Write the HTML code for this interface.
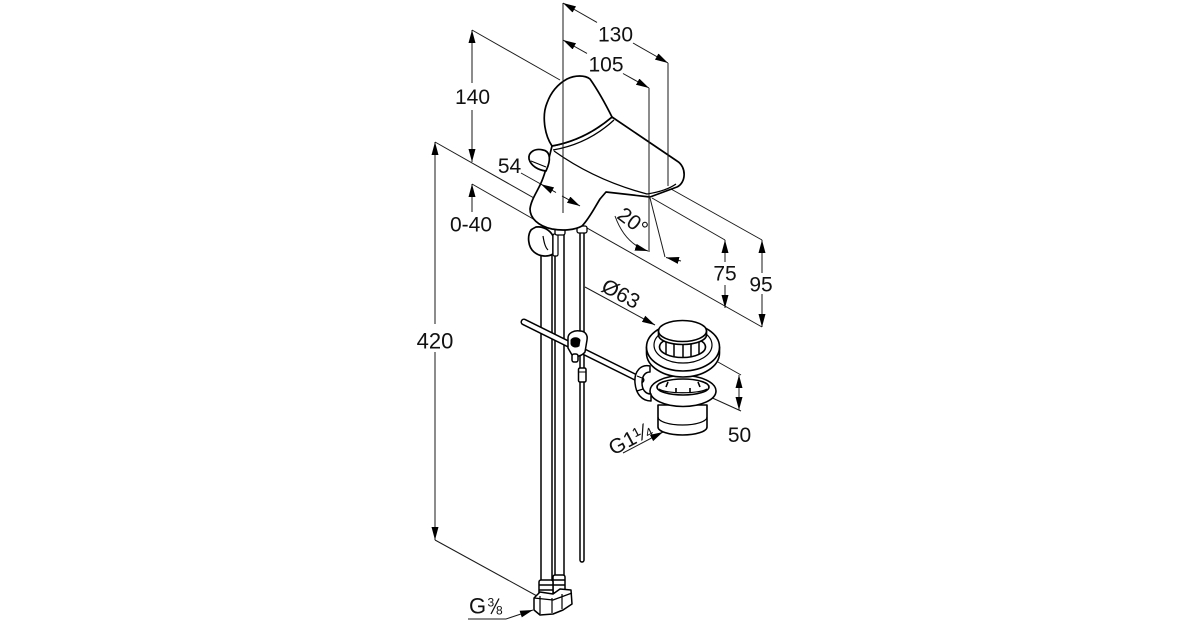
<!DOCTYPE html>
<html>
<head>
<meta charset="utf-8">
<style>
html,body{margin:0;padding:0;background:#fff;}
svg{display:block;}
text{font-family:"Liberation Sans",Arial,sans-serif;fill:#111;}
</style>
</head>
<body>
<svg width="1200" height="630" viewBox="0 0 1200 630" xmlns="http://www.w3.org/2000/svg">
<defs>
<marker id="a" markerUnits="userSpaceOnUse" markerWidth="14" markerHeight="8" refX="13" refY="3.5" orient="auto" viewBox="0 0 14 8">
<path d="M0,0 L13,3.5 L0,7 Z" fill="#000"/>
</marker>
</defs>
<rect width="1200" height="630" fill="#fff"/>

<!-- dimension lines under the faucet -->
<g stroke="#1a1a1a" stroke-width="1" fill="none">
  <line x1="435" y1="142" x2="762" y2="327"/>
  <line x1="472" y1="184" x2="535" y2="220"/>
  <line x1="472" y1="30" x2="560" y2="80"/>
  <!-- 420 -->
  <line x1="435" y1="324" x2="435" y2="142" marker-end="url(#a)"/>
  <line x1="435" y1="352" x2="435" y2="540" marker-end="url(#a)"/>
  <line x1="435" y1="540" x2="537" y2="596"/>
  <!-- 140 -->
  <line x1="472" y1="83" x2="472" y2="30" marker-end="url(#a)"/>
  <line x1="472" y1="110" x2="472" y2="162" marker-end="url(#a)"/>
  <!-- 0-40 -->
  <line x1="472" y1="212" x2="472" y2="184" marker-end="url(#a)"/>
  <!-- 130 -->
  <line x1="597" y1="22.4" x2="563" y2="3" marker-end="url(#a)"/>
  <line x1="633" y1="43" x2="668" y2="63" marker-end="url(#a)"/>
  <!-- 105 -->
  <line x1="587" y1="53.4" x2="563" y2="40" marker-end="url(#a)"/>
  <line x1="623" y1="73.5" x2="649" y2="88" marker-end="url(#a)"/>
  <!-- 75 -->
  <line x1="652" y1="198" x2="725" y2="240"/>
  <line x1="725" y1="262" x2="725" y2="240" marker-end="url(#a)"/>
  <line x1="725" y1="285" x2="725" y2="308" marker-end="url(#a)"/>
  <!-- 95 -->
  <line x1="671" y1="189" x2="762" y2="240"/>
  <line x1="762" y1="273" x2="762" y2="240" marker-end="url(#a)"/>
  <line x1="762" y1="294" x2="762" y2="327" marker-end="url(#a)"/>
  <!-- 20 deg -->
  <line x1="650" y1="198" x2="665" y2="257"/>
  <path d="M615,216 Q625,244 648,251" marker-end="url(#a)"/>
  <line x1="681" y1="261" x2="666" y2="257.5" marker-end="url(#a)"/>
  <!-- Ø63 -->
  <line x1="585" y1="287" x2="655" y2="325" marker-end="url(#a)"/>
  <!-- 50 -->
  <line x1="718" y1="362" x2="741" y2="375"/>
  <line x1="708" y1="396" x2="741" y2="411"/>
  <line x1="739" y1="393" x2="739" y2="375" marker-end="url(#a)"/>
  <line x1="739" y1="393" x2="739" y2="410" marker-end="url(#a)"/>
  <!-- G1 1/4 -->
  <line x1="623" y1="453" x2="663" y2="432" marker-end="url(#a)"/>
  <!-- G3/8 -->
  <line x1="468" y1="619" x2="506" y2="619"/>
  <line x1="506" y1="619" x2="533" y2="610" marker-end="url(#a)"/>
  <!-- 54 -->
  <line x1="521" y1="173" x2="580" y2="206"/>
  <line x1="580" y1="200" x2="580" y2="228"/>
</g>

<!-- hoses & pop-up rod -->
<g stroke="#000" stroke-width="1.5" fill="none">
  <line x1="541" y1="250" x2="541" y2="581"/>
  <line x1="552" y1="240" x2="552" y2="581"/>
  <line x1="555" y1="234" x2="555" y2="576"/>
  <line x1="564" y1="230" x2="564" y2="576"/>
  <path d="M580,228 L580,560 A2,2 0 0 0 584,560 L584,228" fill="#fff"/>
</g>

<!-- faucet -->
<g stroke="#000" stroke-width="1.7" fill="#fff" stroke-linejoin="round">
  <!-- elbow under body -->
  <path d="M531,230 C527,236 528,247 534,252 C540,257 548,257 553,254 L553,236 C550,230 543,226 536,227 C534,228 532,229 531,230 Z"/>
  <path d="M543,236 C544,242 545,247 548,250" fill="none" stroke-width="1.2"/>
  <rect x="553" y="234" width="5" height="22" rx="1.5" stroke-width="1.2"/>
  <rect x="555" y="227" width="10" height="8" rx="2" stroke-width="1.3"/>
  <rect x="577" y="226" width="10" height="7" rx="2" stroke-width="1.3"/>
  <!-- body + spout -->
  <path d="M552,146 C549,158 546,172 541,183 C537,192 531,200 530,209 C530,218 538,226 552,229 C563,231 575,230 582,226 C589,219 595,207 600,199 L606,192 L650,197 L677,187 C686,183 687,167 677,161 L612,117 Q585,140 552,146 Z"/>
  <path d="M554,151 C575,166 605,183 647,194 C660,192 669,189 676,184" fill="none" stroke-width="1.3"/>
  <!-- lever -->
  <path d="M529,159 C528,152 535,148 543,150 C549,151 551,157 548,166 L546,171 C538,170 531,166 529,159 Z"/>
  <path d="M531,161 C536,163 541,165 546,167" fill="none" stroke-width="1.1"/>
  <!-- cap -->
  <path d="M552,146 C544,134 542,115 547,103 C551,92 558,84 567,79 C575,75 585,75 590,79 C597,89 605,103 612,117 Q585,140 552,146 Z"/>
  <path d="M553,150 Q588,144 614,120" fill="none" stroke-width="1.3"/>
</g>

<!-- center / extension lines drawn over faucet -->
<g stroke="#1a1a1a" stroke-width="1" fill="none">
  <line x1="563" y1="3" x2="563" y2="213"/>
  <line x1="668" y1="63" x2="668" y2="186"/>
  <line x1="649" y1="88" x2="649" y2="252"/>
</g>
<!-- 54 arrowheads -->
<g stroke="#000" stroke-width="1" fill="none">
  <line x1="556" y1="192.5" x2="541" y2="184.2" marker-end="url(#a)"/>
  <line x1="562" y1="196" x2="580" y2="206" marker-end="url(#a)"/>
</g>

<!-- drain -->
<g stroke="#000" stroke-width="1.6" fill="#fff" stroke-linejoin="round">
  <path d="M658,405 L658,427 A24.5,8 0 0 0 707,427 L707,405 Z"/>
  <path d="M658,417 A24.5,8 0 0 0 707,417" fill="none" stroke-width="1.2"/>
  <ellipse cx="683" cy="391" rx="33" ry="15.5"/>
  <ellipse cx="683" cy="387" rx="26" ry="8"/>
  <path d="M659,389 C665,394 700,394 707,389" fill="none" stroke-width="1.2"/>
  <path d="M666,387 L668,382 M700,387 L698,382 M676,392 L676,388 M690,392 L690,388" fill="none" stroke-width="1.6"/>
  <path d="M646.5,347 L646.5,353 A36.5,24 0 0 0 719.5,353 L719.5,347 Z"/>
  <ellipse cx="683" cy="347" rx="36.5" ry="24"/>
  <ellipse cx="683" cy="345" rx="29" ry="18" stroke-width="1.2"/>
  <ellipse cx="682.5" cy="347" rx="23" ry="10.5"/>
  <g stroke-width="1.5">
    <line x1="666" y1="342" x2="666" y2="354"/>
    <line x1="674" y1="341" x2="674" y2="357"/>
    <line x1="683" y1="341" x2="683" y2="357"/>
    <line x1="691" y1="341" x2="691" y2="357"/>
    <line x1="699" y1="342" x2="699" y2="354"/>
  </g>
  <path d="M658.5,331 L658.5,335 A24,9.5 0 0 0 706.5,335 L706.5,331 Z"/>
  <ellipse cx="682.5" cy="331" rx="24" ry="10.5"/>
</g>

<!-- horizontal rod -->
<g fill="none" stroke-linecap="round">
  <line x1="524" y1="322" x2="641" y2="380" stroke="#000" stroke-width="7"/>
  <line x1="524" y1="322" x2="641" y2="380" stroke="#fff" stroke-width="4"/>
</g>
<!-- clamp -->
<g stroke="#000" stroke-width="1.5" fill="#fff" stroke-linejoin="round">
  <path d="M568,338 C568,333 574,330 580,331 C585,331 588,335 587,340 L585,352 C582,356 575,358 572,355 L568,348 Z"/>
  <path d="M571,340 C573,337 578,337 580,340 L579,346 C576,348 572,347 571,344 Z" fill="#000" stroke-width="1"/>
  <rect x="572" y="354" width="6" height="8" rx="2"/>
  <rect x="578.5" y="368" width="7.5" height="14" rx="1.5"/>
  <line x1="578.5" y1="372" x2="586" y2="372" stroke-width="1"/>
  <!-- clip on drain -->
  <path d="M650,366 C641,364 634,371 635,383 C636,394 642,401 651,401 L651,394 C645,394 642,389 642,383 C642,376 645,372 650,372 Z"/>
  <path d="M637,376 L642,378 M637,391 L643,389" fill="none" stroke-width="1.2"/>
</g>

<!-- hose end fittings -->
<g stroke="#000" stroke-width="1.5" fill="#fff" stroke-linejoin="round">
  <rect x="553" y="575" width="12" height="18" rx="2"/>
  <line x1="553" y1="580" x2="565" y2="580"/>
  <line x1="553" y1="585" x2="565" y2="585"/>
  <rect x="539" y="580" width="14" height="17" rx="2"/>
  <line x1="539" y1="585" x2="553" y2="585"/>
  <line x1="539" y1="590" x2="553" y2="590"/>
  <path d="M534,598 L540,592 L553,594 L560,589 L571,590 L572,604 L563,610 L553,614 L540,615 L534,610 Z"/>
  <path d="M540,596 L540,614 M552,598 L552,613 M562,594 L562,609 M534,598 L553,600 L572,593" fill="none" stroke-width="1.2"/>
</g>

<!-- labels -->
<g font-size="21" text-anchor="middle">
  <text x="615.5" y="41.5">130</text>
  <text x="606" y="71.5">105</text>
  <text x="472.5" y="104">140</text>
  <text x="509.5" y="173">54</text>
  <text x="471" y="231.5">0-40</text>
  <text x="435" y="348.5" font-size="22">420</text>
  <text x="725" y="280.5">75</text>
  <text x="761" y="291.5">95</text>
  <text x="739.5" y="442">50</text>
  <text transform="translate(617.5,300) rotate(28)">Ø63</text>
  <text transform="translate(628.5,227) rotate(37)">20°</text>
  <text transform="translate(633.5,445) rotate(-28)">G1¼</text>
</g>
<text x="469" y="613.5" font-size="22">G</text>
<text x="487.5" y="606.5" font-size="12">3</text>
<line x1="499" y1="598.5" x2="491" y2="614" stroke="#111" stroke-width="1.3"/>
<text x="496" y="614.5" font-size="12">8</text>
</svg>
</body>
</html>
